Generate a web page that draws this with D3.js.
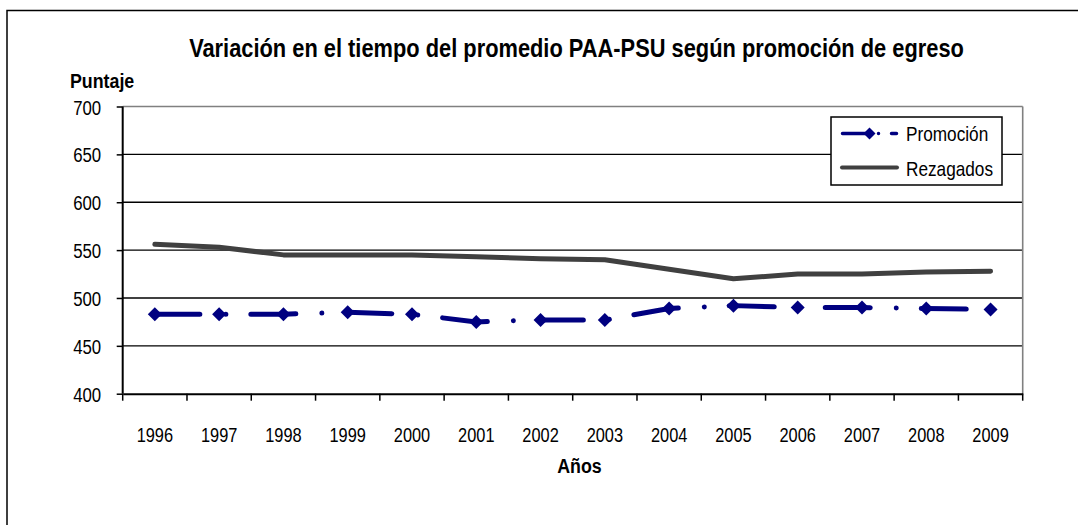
<!DOCTYPE html>
<html><head><meta charset="utf-8">
<script src="https://cdn.jsdelivr.net/npm/d3@7"></script>
<style>
html,body{margin:0;padding:0;background:#fff;}
svg{display:block;}
text{font-family:"Liberation Sans",Arial,sans-serif;fill:#000;}
</style></head>
<body>
<svg id="chart" width="1078" height="525"></svg>
<script>
const years = ["1996","1997","1998","1999","2000","2001","2002","2003","2004","2005","2006","2007","2008","2009"];
const promocion = [483,483,483,485,483,475,477,477,489,492,490,490,489,488];
const rezagados = [556,553,545,545,545,543,541,540,530,520,525,525,527,528];
const yTicks = [400,450,500,550,600,650,700];
const title = "Variación en el tiempo del promedio PAA-PSU según promoción de egreso";
const yTitle = "Puntaje";
const xTitle = "Años";
const seriesNames = ["Promoción","Rezagados"];

const svg = d3.select("#chart");
const L = 122.7, R = 1022.7, T = 106.5, B = 393.7;
const navy = "#000080", gray = "#404040";
function narrow(sel, sx){
  sel.each(function(){
    const t = d3.select(this);
    const x0 = +t.attr("x") || 0, y0 = +t.attr("y") || 0;
    t.attr("transform",`translate(${x0},${y0}) scale(${sx},1) translate(${-x0},${-y0})`);
  });
}

// outer border
svg.append("rect").attr("x",7).attr("y",10.5).attr("width",1090).attr("height",540)
  .attr("fill","none").attr("stroke","#000").attr("stroke-width",1.5);

const x = d3.scaleBand().domain(years).range([L,R]).paddingInner(0).paddingOuter(0);
const y = d3.scaleLinear().domain([400,700]).range([B,T]);
const cx = d => x(d) + x.bandwidth()/2;

// gridlines
svg.append("g").selectAll("line").data(yTicks.filter(v=>v>400 && v<700)).join("line")
  .attr("x1",L).attr("x2",R).attr("y1",d=>y(d)).attr("y2",d=>y(d))
  .attr("stroke","#000").attr("stroke-width",1.4);
// plot border top/right gray
svg.append("line").attr("x1",L).attr("x2",R).attr("y1",T).attr("y2",T).attr("stroke","#808080").attr("stroke-width",1.6);
svg.append("line").attr("x1",R).attr("x2",R).attr("y1",T).attr("y2",B).attr("stroke","#808080").attr("stroke-width",1.6);

// y axis
const yAxis = d3.axisLeft(y).tickValues(yTicks).tickSize(6).tickPadding(15).tickFormat(d3.format("d"));
const gy = svg.append("g").attr("transform",`translate(${L},0)`).call(yAxis);
gy.select(".domain").attr("stroke","#000").attr("stroke-width",2).attr("d",`M0,${T}V${B}`);
gy.selectAll(".tick line").attr("stroke","#000").attr("stroke-width",1.5);
gy.selectAll(".tick text").attr("font-size",21).attr("font-family",null).attr("dy","0.36em").attr("x",-21.5).call(narrow,0.8);

// x axis
const xAxis = d3.axisBottom(x).tickSize(0).tickPadding(30);
const gx = svg.append("g").attr("transform",`translate(0,${B})`).call(xAxis);
gx.select(".domain").attr("stroke","#000").attr("stroke-width",2);
gx.selectAll(".tick text").attr("font-size",21).attr("font-family",null).attr("y",48).attr("dy",0).call(narrow,0.78);
// boundary ticks
const edges = years.map(d=>x(d)).concat([R]);
svg.append("g").selectAll("line").data(edges).join("line")
  .attr("x1",d=>d).attr("x2",d=>d).attr("y1",B).attr("y2",B+7)
  .attr("stroke","#000").attr("stroke-width",1.5);

// lines
const lineR = d3.line().x((d,i)=>cx(years[i])).y(d=>y(d));
svg.append("path").datum(rezagados).attr("d",lineR).attr("fill","none")
  .attr("stroke",gray).attr("stroke-width",5).attr("stroke-linecap","round").attr("stroke-linejoin","round");
svg.append("path").datum(promocion).attr("d",lineR).attr("fill","none")
  .attr("stroke",navy).attr("stroke-width",5).attr("stroke-linecap","round").attr("stroke-linejoin","round")
  .attr("stroke-dasharray","45,26,0.01,25");
const diamond = r => `M0,${-r}L${r},0L0,${r}L${-r},0Z`;
svg.append("g").selectAll("path").data(promocion).join("path")
  .attr("d",diamond(7)).attr("fill",navy)
  .attr("transform",(d,i)=>`translate(${cx(years[i])},${y(d)})`);

// title & axis titles
svg.append("text").attr("x",576.5).attr("y",57).attr("text-anchor","middle")
  .attr("font-size",26).attr("font-weight","bold").text(title).call(narrow,0.84);
svg.append("text").attr("x",70).attr("y",88).attr("font-size",20).attr("font-weight","bold").text(yTitle).call(narrow,0.89);
svg.append("text").attr("x",579.5).attr("y",473).attr("text-anchor","middle").attr("font-size",20).attr("font-weight","bold").text(xTitle).call(narrow,0.89);

// legend
const lg = svg.append("g");
lg.append("rect").attr("x",831).attr("y",117).attr("width",171).attr("height",68)
  .attr("fill","#fff").attr("stroke","#000").attr("stroke-width",1.5);
lg.append("line").attr("x1",842.5).attr("x2",896.5).attr("y1",133.5).attr("y2",133.5)
  .attr("stroke",navy).attr("stroke-width",3.5).attr("stroke-linecap","round").attr("stroke-dasharray","30,6,0.01,13,5");
lg.append("path").attr("d",diamond(6)).attr("fill",navy).attr("transform","translate(869.5,133.5)");
lg.append("line").attr("x1",842).attr("x2",897).attr("y1",167.5).attr("y2",167.5)
  .attr("stroke",gray).attr("stroke-width",4).attr("stroke-linecap","round");
lg.append("text").attr("x",906).attr("y",141.5).attr("font-size",21).text(seriesNames[0]).call(narrow,0.82);
lg.append("text").attr("x",906).attr("y",176).attr("font-size",21).text(seriesNames[1]).call(narrow,0.82);
</script>
</body></html>
